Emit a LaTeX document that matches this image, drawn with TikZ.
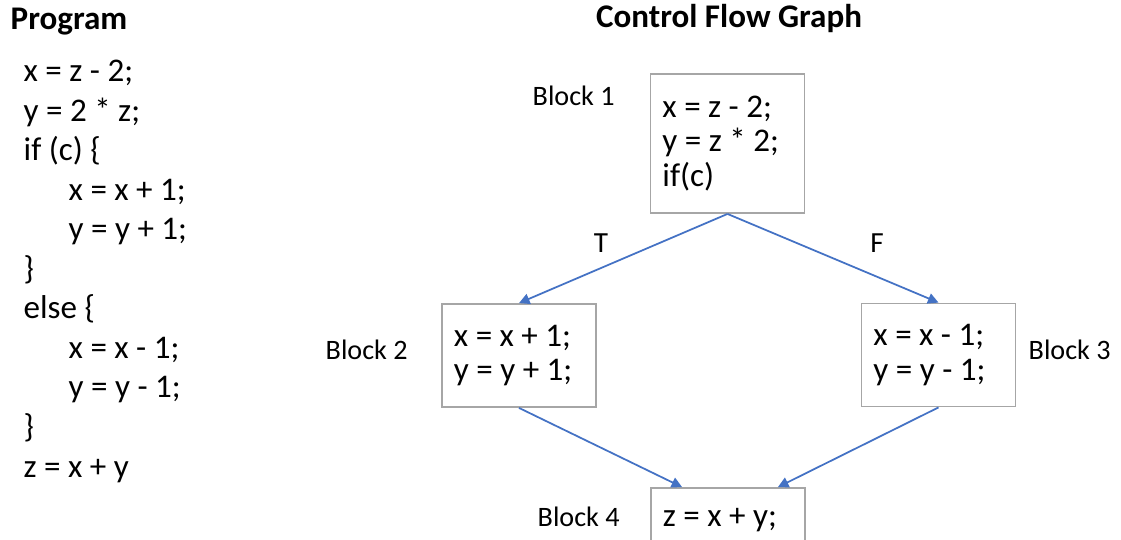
\documentclass[tikz,border=0pt]{standalone}
\usepackage{fontspec}
\setmainfont{Carlito}
\usepackage{tikz}
\usetikzlibrary{arrows.meta}
\definecolor{cfgblue}{RGB}{68,114,196}
\definecolor{cfggray}{RGB}{166,166,166}

\begin{document}
\begin{tikzpicture}[x=0.01cm, y=-0.01cm, every node/.style={font=\fontsize{9.4pt}{11.2pt}\selectfont, inner sep=0pt},
  cfgbox/.style={draw=cfggray, line width=0.5pt, text width=1.3cm, inner xsep=0.12cm, align=flush left, font=\fontsize{9.4pt}{9.7pt}\selectfont},
  blocklabel/.style={anchor=base west, font=\fontsize{8pt}{9pt}\selectfont},
  flow/.style={-{Triangle[length=3pt,width=3pt]}, cfgblue, line width=0.5pt}]
  \clip (0,0) rectangle (1121,539);
  % titles
  \node[font=\bfseries\fontsize{9.4pt}{11.2pt}\selectfont, anchor=base west] (prog) at (10,29) {Program};
  \node[font=\bfseries\fontsize{9.4pt}{11.2pt}\selectfont, anchor=base] (cfg) at (729,27) {Control Flow Graph};
  % program text
  \node[anchor=base west, align=left, font=\fontsize{9.4pt}{11.24pt}\selectfont] (code) at (23,477) {x = z - 2;\\ y = 2 * z;\\ if (c) \{\\ \hspace*{0.45cm}x = x + 1;\\ \hspace*{0.45cm}y = y + 1;\\ \}\\ else \{\\ \hspace*{0.45cm}x = x - 1;\\ \hspace*{0.45cm}y = y - 1;\\ \}\\ z = x + y};
  % basic blocks
  \node[cfgbox, minimum height=1.39cm] (b1) at (727.5,143.5) {x = z - 2;\\ y = z * 2;\\ if(c)};
  \node[cfgbox, minimum height=1.03cm] (b2) at (519,355.5) {x = x + 1;\\ y = y + 1;};
  \node[cfgbox, minimum height=1.03cm] (b3) at (938.5,355) {x = x - 1;\\ y = y - 1;};
  \node[cfgbox, minimum height=0.64cm] (b4) at (728,520) {z = x + y;};
  \node[blocklabel] (l1) at (532,105) {Block 1};
  \node[blocklabel] (l2) at (325,359) {Block 2};
  \node[blocklabel] (l3) at (1028,359) {Block 3};
  \node[blocklabel] (l4) at (537,526) {Block 4};
  % edges
  \draw[flow] (b1.south) -- (b2.north);
  \draw[flow] (b1.south) -- (b3.north);
  \draw[flow] (b2.south) -- ([xshift=0.32cm]b4.north west);
  \draw[flow] (b3.south) -- ([xshift=-0.28cm]b4.north east);
  \node[anchor=base, font=\fontsize{8.3pt}{9pt}\selectfont] (t) at (601,252) {T};
  \node[anchor=base, font=\fontsize{8.3pt}{9pt}\selectfont] (f) at (877,252) {F};
\end{tikzpicture}
\end{document}
